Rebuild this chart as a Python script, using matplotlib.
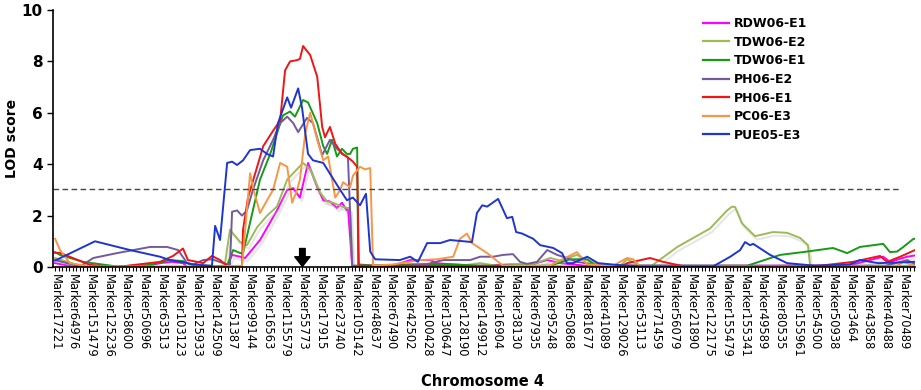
import matplotlib.pyplot as plt
import matplotlib.patheffects as pe
from matplotlib.lines import Line2D
from matplotlib.ticker import MultipleLocator

# x positions are marker index along chromosome 4 (0..243), y is LOD score
marker_labels = ['Marker17221', 'Marker64976', 'Marker151479', 'Marker125236', 'Marker58600',
                 'Marker50696', 'Marker63513', 'Marker103123', 'Marker125933', 'Marker142509',
                 'Marker51387', 'Marker99144', 'Marker16563', 'Marker115579', 'Marker55773',
                 'Marker17915', 'Marker23740', 'Marker105142', 'Marker48637', 'Marker67490',
                 'Marker42502', 'Marker100428', 'Marker130647', 'Marker128190', 'Marker149912',
                 'Marker16904', 'Marker38130', 'Marker67935', 'Marker95248', 'Marker50868',
                 'Marker81677', 'Marker41089', 'Marker129026', 'Marker53113', 'Marker71459',
                 'Marker56079', 'Marker21890', 'Marker122175', 'Marker155479', 'Marker155341',
                 'Marker49589', 'Marker80535', 'Marker155961', 'Marker54500', 'Marker50938',
                 'Marker3464', 'Marker43858', 'Marker40488', 'Marker70489']
label_step = 5
n_markers = 244
threshold = 3.05
arrow_marker = 70

rdw_x = [0, 5, 25, 29.7, 33.1, 36.2, 37.4, 48.7, 50.1, 52.4, 53.8, 58, 62.8, 65.7, 67.4, 69.3,
         71.6, 74.2, 75.9, 77.8, 79.8, 81.2, 82.6, 82.9, 84.1, 95, 100.5, 106.1, 108.1, 112, 120,
         128.8, 135, 139.3, 143, 150, 220, 225.9, 234.4, 236.3, 241.2, 243.4]
rdw_y = [0.15, 0.02, 0.0, 0.15, 0.2, 0.15, 0.0, 0.0, 0.47, 0.4, 0.35, 1.05, 2.2, 3.0, 3.07, 2.7,
         4.05, 3.1, 2.6, 2.55, 2.3, 2.5, 2.2, 2.3, 0.02, 0.02, 0.27, 0.27, 0.15, 0.1, 0.05,
         0.1, 0.1, 0.27, 0.15, 0.05, 0.05, 0.1, 0.4, 0.2, 0.4, 0.45]

tdw2_x = [0, 7, 20, 40, 48, 49.5, 52.4, 54.3, 57.2, 60, 62.8, 65.7, 67.4, 70.2, 72.2, 75, 77,
          78.7, 81.2, 82.6, 83.5, 84.1, 115, 120.3, 125, 135, 140.1, 143, 147.7, 150, 155,
          160, 161.9, 165.6, 168.4, 176.1, 185.4, 190.2, 191.6, 192.5, 194.4, 198.1, 203.2,
          207.2, 210.9, 213.1, 213.7, 243.4]
tdw2_y = [0.35, 0.05, 0.0, 0.0, 0.05, 1.45, 0.97, 0.85, 1.55, 2.0, 2.35, 3.4, 3.65, 4.05, 3.8,
          2.9, 2.55, 2.5, 2.35, 2.3, 2.25, 0.05, 0.05, 0.15, 0.05, 0.1, 0.35, 0.25, 0.47, 0.3,
          0.05, 0.05, 0.3, 0.05, 0.0, 0.78, 1.5, 2.2, 2.35, 2.33, 1.7, 1.2, 1.36, 1.33, 1.13,
          0.85, 0.05, 0.05]

tdw1_x = [0, 1.4, 7.9, 17.5, 26.9, 32.5, 36.2, 38.2, 41, 48.7, 49.5, 50.4, 52.4, 53.2, 58,
          60.9, 62.8, 64.5, 66.5, 67.9, 70.2, 71.6, 74.2, 75.9, 77, 78.4, 79.8, 81.2, 82.6,
          83.5, 84.3, 85.5, 85.8, 90.6, 100, 110, 120, 140, 145.8, 150.6, 153, 195.9, 205.2,
          211.7, 220.2, 224.2, 227.8, 234.4, 236.3, 238.3, 240.1, 242.9, 243.4]
tdw1_y = [0.58, 0.47, 0.2, 0.02, 0.08, 0.27, 0.23, 0.1, 0.02, 0.05, 0.35, 0.66, 0.54, 0.54,
          3.4, 4.4, 5.2, 5.9, 6.05, 5.85, 6.5, 6.4, 5.6, 4.7, 4.4, 4.95, 4.3, 4.6, 4.4, 4.4,
          4.6, 4.65, 0.1, 0.05, 0.1, 0.12, 0.05, 0.05, 0.3, 0.3, 0.05, 0.05, 0.47, 0.58, 0.74,
          0.54, 0.78, 0.9, 0.58, 0.6, 0.78, 1.09, 1.1]

ph2_x = [0, 7.1, 10.8, 17.5, 26.9, 31.7, 34.8, 37.4, 39.1, 41.9, 44.4, 48.7, 49.5, 50.1, 51.5,
         52.9, 54.3, 56, 58.9, 61.7, 63.7, 65.7, 67.4, 68.8, 71.3, 73, 75.6, 77.8, 79.8, 81.5,
         82.9, 84.1, 100, 105, 109.8, 117.5, 120.3, 124, 126.8, 129.6, 131.6, 133.6, 136.4,
         139.3, 142.1, 144.9, 147.7, 155, 235, 241.2, 243.4]
ph2_y = [0.27, 0.02, 0.35, 0.54, 0.78, 0.78, 0.66, 0.15, 0.1, 0.27, 0.3, 0.1, 0.1, 2.15, 2.2,
         2.0, 2.2, 3.0, 4.15, 4.95, 5.6, 5.85, 5.6, 5.25, 5.8, 5.6, 4.35, 4.95, 4.6, 4.4, 4.25,
         0.05, 0.05, 0.1, 0.27, 0.27, 0.4, 0.4, 0.47, 0.5, 0.2, 0.12, 0.2, 0.66, 0.47, 0.35,
         0.2, 0.05, 0.05, 0.27, 0.1]

ph1_x = [0, 1.4, 9.9, 17.5, 29.7, 33.4, 36.2, 37.6, 40.2, 41.9, 44.4, 46.7, 48.7, 52.9, 53.2,
         54.6, 57.2, 58.9, 61.7, 63.7, 65.1, 66.5, 68.5, 69.3, 70.2, 72.2, 74.2, 75.6, 76.4,
         77.8, 79.3, 81.2, 82.6, 84.3, 85.5, 86.0, 100, 160, 161.9, 168.4, 172.1, 178.9,
         208.9, 216.5, 225.9, 233.5, 235.5, 239.2, 243.4]
ph1_y = [0.55, 0.55, 0.08, 0.0, 0.2, 0.43, 0.72, 0.27, 0.2, 0.15, 0.43, 0.27, 0.05, 0.0, 1.45,
         2.7, 3.9, 4.7, 5.3, 5.7, 7.65, 8.0, 8.05, 8.1, 8.6, 8.25, 7.4, 5.45, 5.05, 5.45, 4.8,
         4.4, 4.3, 4.1, 3.9, 0.05, 0.05, 0.0, 0.15, 0.35, 0.2, 0.0, 0.05, 0.05, 0.2, 0.43,
         0.2, 0.4, 0.66]

pc_x = [0, 1.4, 4.2, 10, 45, 52.9, 55.2, 56, 58, 60, 61.7, 63.7, 65.7, 67.1, 68.5, 69.3, 70.8,
        72.2, 74.2, 75.9, 77.3, 78.4, 79.3, 80.7, 81.5, 83.5, 84.3, 86.3, 87.7, 89.2, 90, 95.7,
        103.3, 108.1, 112.7, 114.6, 116.6, 118, 122.3, 126.8, 140, 147.7, 150.6, 158, 159.9,
        161.9, 163.6, 165.6, 238, 240.1, 243.4]
pc_y = [1.1, 0.66, 0.15, 0.02, 0.02, 0.05, 3.65, 3.1, 2.1, 2.6, 3.0, 4.05, 3.9, 2.5, 3.0, 3.4,
        5.2, 6.0, 4.95, 4.15, 4.3, 3.4, 2.7, 3.0, 3.3, 3.1, 3.55, 3.9, 3.8, 3.85, 0.05, 0.1,
        0.27, 0.3, 0.4, 1.1, 1.3, 0.93, 0.54, 0.05, 0.05, 0.58, 0.1, 0.05, 0.2, 0.35, 0.3,
        0.02, 0.02, 0.2, 0.05]

pue_x = [0, 11.3, 21.2, 29.7, 32.5, 37.5, 39, 44.4, 45.3, 46.7, 48.7, 50.1, 51.5, 53.2, 55.2,
         58, 60, 61.7, 63.1, 65.7, 66.8, 68.8, 69.9, 71.6, 73, 75.9, 78.4, 80.7, 82.6, 84.3,
         86.3, 88, 89.2, 90.6, 97.6, 100.5, 102.7, 105.3, 109, 111.8, 118, 119.4, 120.9,
         122.3, 125.4, 127.9, 129.4, 130.5, 132.2, 135.3, 137.3, 141, 143.5, 144.9, 146.6,
         150.6, 153.7, 159.1, 165.6, 186.2, 191.1, 193.9, 195.3, 196.7, 197.6, 202.4, 207.2,
         215, 225, 227.8, 233, 243.4]
pue_y = [0.25, 1.0, 0.66, 0.4, 0.27, 0.15, 0.1, 0.05, 1.6, 1.05, 4.05, 4.1, 3.97, 4.15, 4.55,
         4.6, 4.4, 4.3, 5.6, 6.6, 6.2, 6.95, 6.2, 4.4, 4.15, 4.05, 3.5, 3.0, 2.6, 2.7, 2.4,
         2.85, 0.6, 0.3, 0.27, 0.4, 0.2, 0.93, 0.93, 1.05, 0.97, 2.1, 2.4, 2.35, 2.65, 1.9,
         1.95, 1.36, 1.3, 1.1, 0.85, 0.74, 0.54, 0.15, 0.15, 0.4, 0.15, 0.08, 0.02, 0.02, 0.4,
         0.66, 0.97, 0.85, 0.9, 0.47, 0.15, 0.05, 0.1, 0.27, 0.15, 0.2]

series = [
    ('RDW06-E1', rdw_x, rdw_y, '#FF00FF', True),
    ('TDW06-E2', tdw2_x, tdw2_y, '#9BBB59', True),
    ('TDW06-E1', tdw1_x, tdw1_y, '#169B16', False),
    ('PH06-E2', ph2_x, ph2_y, '#735A9C', False),
    ('PH06-E1', ph1_x, ph1_y, '#F01414', False),
    ('PC06-E3', pc_x, pc_y, '#F79646', False),
    ('PUE05-E3', pue_x, pue_y, '#1F35D0', False),
]

fig = plt.figure(figsize=(9.21, 3.9), dpi=100)
ax = fig.add_axes([0.0575, 0.3154, 0.936, 0.6589])

handles = []
for name, xs, ys, color, shadow in series:
    effects = []
    if shadow:
        # soft grey shadow under the two lower curves, like the original
        effects = [pe.SimpleLineShadow(offset=(1.5, -2.5), shadow_color='#aaaaaa', alpha=0.3),
                   pe.Normal()]
    ax.plot(xs, ys, color=color, lw=1.4, path_effects=effects)
    handles.append(Line2D([], [], color=color, lw=1.6, label=name))

ax.axhline(threshold, xmin=0, xmax=0.983, color='#444444', lw=1, ls=(0, (4, 2.5)))

ax.annotate('', xy=(arrow_marker, 0.02), xytext=(arrow_marker, 0.72),
            arrowprops=dict(facecolor='black', edgecolor='black', width=4,
                            headwidth=11, headlength=7))

ax.set_xlim(-0.6, n_markers - 0.6)
ax.set_ylim(0, 10)
ax.set_yticks(range(0, 11, 2))
ax.set_yticklabels([str(v) for v in range(0, 11, 2)], fontweight='bold', fontsize=11)
ax.set_xticks([i * label_step for i in range(len(marker_labels))])
ax.set_xticklabels(marker_labels, rotation=270, fontsize=8.3, family='DejaVu Sans')
ax.xaxis.set_minor_locator(MultipleLocator(1))
ax.tick_params(axis='x', which='both', length=3, width=0.8, direction='out', pad=2)
ax.tick_params(axis='y', length=4, width=1, direction='out')

for s in ['top', 'right']:
    ax.spines[s].set_visible(False)
ax.spines['left'].set_linewidth(1.2)
ax.spines['bottom'].set_linewidth(1.2)

ax.set_ylabel('LOD score', fontweight='bold', fontsize=10, labelpad=2)
fig.text(0.524, 0.021, 'Chromosome 4', ha='center', va='center', fontweight='bold', fontsize=10.5)

ax.legend(handles=handles, loc='upper left', bbox_to_anchor=(0.751, 0.985),
          bbox_transform=fig.transFigure, frameon=False, handlelength=2.1,
          handletextpad=0.35, labelspacing=0.45, prop={'weight': 'bold', 'size': 9})

fig.savefig('out.png', dpi=100)
